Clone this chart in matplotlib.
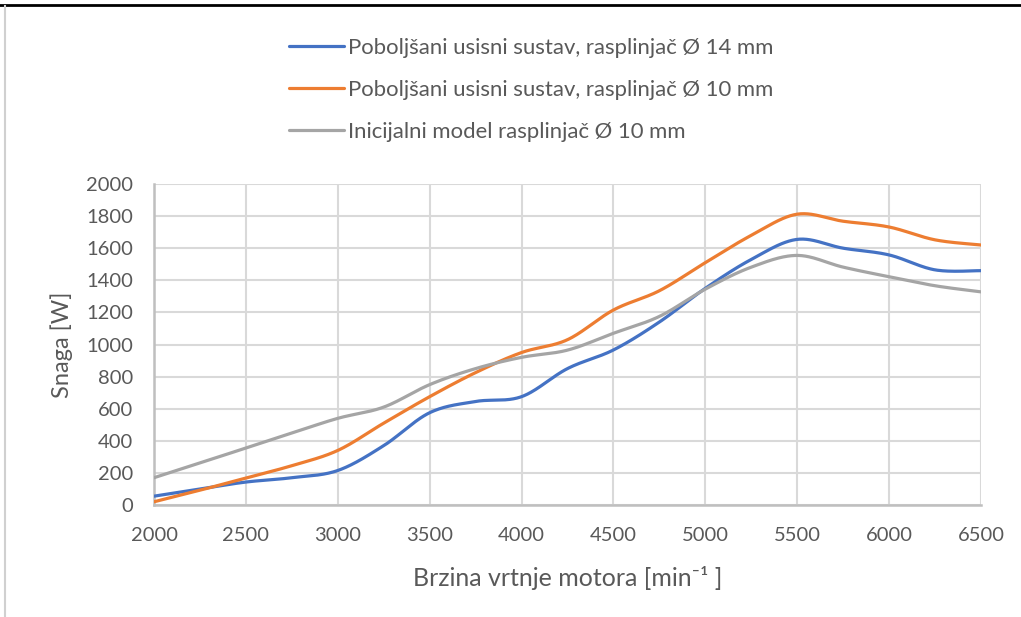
import numpy as np
import matplotlib
matplotlib.use("Agg")
import matplotlib.pyplot as plt
from matplotlib.lines import Line2D

# Engine speed [min^-1]
rpm = [2000, 2250, 2500, 2750, 3000, 3250, 3500, 3750, 4000, 4250,
       4500, 4750, 5000, 5250, 5500, 5750, 6000, 6250, 6500]

# Power [W]
power_14mm = [55, 100, 143, 170, 215, 370, 575, 645, 675, 850,
              966, 1140, 1350, 1530, 1655, 1600, 1558, 1465, 1460]
power_10mm = [20, 92, 168, 245, 340, 510, 675, 825, 950, 1030,
              1215, 1335, 1510, 1680, 1812, 1768, 1732, 1652, 1620]
power_initial = [170, 262, 355, 448, 540, 610, 750, 850, 920, 965,
                 1070, 1175, 1345, 1482, 1555, 1482, 1422, 1366, 1328]

series_labels = ["Poboljšani usisni sustav, rasplinjač Ø 14 mm",
                 "Poboljšani usisni sustav, rasplinjač Ø 10 mm",
                 "Inicijalni model rasplinjač Ø 10 mm"]
series_colors = ["#4472C4", "#ED7D31", "#A5A5A5"]

x_ticks = [2000, 2500, 3000, 3500, 4000, 4500, 5000, 5500, 6000, 6500]
y_ticks = [0, 200, 400, 600, 800, 1000, 1200, 1400, 1600, 1800, 2000]


def smooth(xs, ys, n=40):
    """Catmull-Rom curve through the points, sampled as cubic Beziers."""
    x = np.asarray(xs, float)
    y = np.asarray(ys, float)
    px = np.concatenate([[x[0]], x, [x[-1]]])
    py = np.concatenate([[y[0]], y, [y[-1]]])
    out_x, out_y = [], []
    t = np.linspace(0, 1, n)
    for i in range(1, len(px) - 2):
        p0 = np.array([px[i - 1], py[i - 1]])
        p1 = np.array([px[i], py[i]])
        p2 = np.array([px[i + 1], py[i + 1]])
        p3 = np.array([px[i + 2], py[i + 2]])
        c1 = p1 + (p2 - p0) / 6.0
        c2 = p2 - (p3 - p1) / 6.0
        b = ((1 - t) ** 3)[:, None] * p1 + (3 * (1 - t) ** 2 * t)[:, None] * c1 \
            + (3 * (1 - t) * t ** 2)[:, None] * c2 + (t ** 3)[:, None] * p2
        out_x.extend(b[:, 0])
        out_y.extend(b[:, 1])
    return np.array(out_x), np.array(out_y)


FONT = ["Lato", "DejaVu Sans"]
TEXT = "#595959"
plt.rcParams["font.family"] = FONT

fig = plt.figure(figsize=(10.21, 6.17), dpi=100)
ax = fig.add_axes([154 / 1021, 1 - 505 / 617, 827 / 1021, 321 / 617])

handles = []
for ys, lab, col in zip([power_14mm, power_10mm, power_initial], series_labels, series_colors):
    sx, sy = smooth(rpm, ys)
    h, = ax.plot(sx, sy, color=col, lw=2.3, solid_capstyle="round", label=lab, zorder=3)
    handles.append(h)

ax.set_xlim(2000, 6500)
ax.set_ylim(0, 2000)
ax.set_xticks(x_ticks)
ax.set_yticks(y_ticks)
ax.grid(True, color="#D9D9D9", lw=1.5)
ax.set_axisbelow(True)
ax.tick_params(length=0, labelsize=14.5, colors=TEXT)
ax.tick_params(axis="y", pad=15)
ax.tick_params(axis="x", pad=16)
for s in ["top", "right"]:
    ax.spines[s].set_visible(False)
for s in ["left", "bottom"]:
    ax.spines[s].set_color("#BFBFBF")
    ax.spines[s].set_linewidth(1.8)

ax.set_xlabel("Brzina vrtnje motora [min⁻¹ ]", fontsize=18, color=TEXT)
ax.set_ylabel("Snaga [W]", fontsize=17, color=TEXT)
ax.xaxis.set_label_coords(0.5, (505 - 578) / 321)
ax.xaxis.label.set_va("center")
ax.yaxis.set_label_coords((73 - 154) / 827, 0.5)

fig.legend(handles=handles, loc="upper left", bbox_to_anchor=(280 / 1021, 1 - 29 / 617),
           frameon=False, fontsize=15.9, labelcolor=TEXT, handlelength=2.5,
           handletextpad=0.18, labelspacing=1.0, borderaxespad=0)

# page frame lines
fig.add_artist(Line2D([0, 1], [1 - 5 / 617, 1 - 5 / 617], color="black", lw=2.0))
fig.add_artist(Line2D([5 / 1021, 5 / 1021], [0, 1 - 6 / 617], color="#D0D0D0", lw=1.5))

fig.savefig("out.png", dpi=100, facecolor="white")
